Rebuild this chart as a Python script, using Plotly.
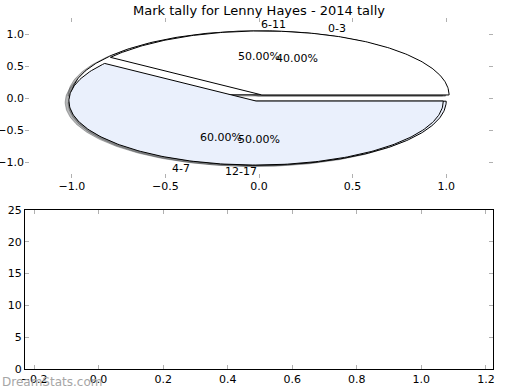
import numpy as np
import plotly.graph_objects as go

# ---- data ----
title = "Mark tally for Lenny Hayes - 2014 tally"
pie_back_labels = ["6-11", "12-17"]
pie_back_values = [50, 50]
pie_front_labels = ["0-3", "4-7"]
pie_front_values = [40, 60]
slice_colors = ["#ffffff", "#eaf0fc"]
explode = [0.05, 0.05]

pie_xticks = [-1.0, -0.5, 0.0, 0.5, 1.0]
pie_yticks = [-1.0, -0.5, 0.0, 0.5, 1.0]
bar_xticks = [-0.2, 0.0, 0.2, 0.4, 0.6, 0.8, 1.0, 1.2]
bar_yticks = [0, 5, 10, 15, 20, 25]
watermark = "DreamStats.com"

FONT = "DejaVu Sans"
fig = go.Figure()


def wedge_pts(cx, cy, r, t1, t2, n=200):
    th = np.radians(np.linspace(t1, t2, n))
    xs = np.concatenate([[cx], cx + r * np.cos(th), [cx]])
    ys = np.concatenate([[cy], cy + r * np.sin(th), [cy]])
    return xs, ys


def pie_geometry(values):
    total = float(sum(values))
    out = []
    start = 0.0
    for i, v in enumerate(values):
        span = 360.0 * v / total
        t1, t2 = start, start + span
        mid = np.radians((t1 + t2) / 2)
        cx = explode[i] * np.cos(mid)
        cy = explode[i] * np.sin(mid)
        out.append((t1, t2, mid, cx, cy, 100.0 * v / total))
        start = t2
    return out


pies = [(pie_back_labels, pie_back_values), (pie_front_labels, pie_front_values)]
geoms = [pie_geometry(v) for _, v in pies]

# shadows (drawn below every wedge)
for geom in geoms:
    for i, (t1, t2, mid, cx, cy, pct) in enumerate(geom):
        xs, ys = wedge_pts(cx - 0.02, cy - 0.02, 1.0, t1, t2)
        rgb = [int(slice_colors[i][k:k + 2], 16) for k in (1, 3, 5)]
        sc = "rgba(%d,%d,%d,0.4)" % tuple(int(0.3 * c) for c in rgb)
        fig.add_trace(go.Scatter(x=xs, y=ys, mode="lines", fill="toself",
                                 fillcolor=sc, line=dict(color=sc, width=1),
                                 hoverinfo="skip", showlegend=False,
                                 xaxis="x", yaxis="y"))

# wedges
for geom in geoms:
    for i, (t1, t2, mid, cx, cy, pct) in enumerate(geom):
        xs, ys = wedge_pts(cx, cy, 1.0, t1, t2)
        fig.add_trace(go.Scatter(x=xs, y=ys, mode="lines", fill="toself",
                                 fillcolor=slice_colors[i],
                                 line=dict(color="black", width=1),
                                 hoverinfo="skip", showlegend=False,
                                 xaxis="x", yaxis="y"))

# labels
annotations = []
annotations.append(dict(x=0.0, y=(390 - 382) / 390, xref="paper", yref="paper",
                        text=watermark, showarrow=False, xanchor="left", yanchor="middle",
                        font=dict(family=FONT, size=12, color="#a6a6a6")))
for (labels, values), geom in zip(pies, geoms):
    for i, (t1, t2, mid, cx, cy, pct) in enumerate(geom):
        lx = cx + 1.1 * np.cos(mid)
        ly = cy + 1.1 * np.sin(mid)
        annotations.append(dict(x=lx, y=ly, xref="x", yref="y", text=labels[i],
                                showarrow=False, xanchor="left" if lx > 0 else "right",
                                yanchor="middle", font=dict(family=FONT, size=11, color="black")))
        px = cx + 0.6 * np.cos(mid)
        py = cy + 0.6 * np.sin(mid)
        annotations.append(dict(x=px, y=py, xref="x", yref="y", text="%.2f%%" % pct,
                                showarrow=False, xanchor="center", yanchor="middle",
                                font=dict(family=FONT, size=11, color="black")))

# empty bottom axes content (invisible placeholder trace so axes render)
fig.add_trace(go.Scatter(x=[None], y=[None], mode="markers", showlegend=False,
                         hoverinfo="skip", xaxis="x2", yaxis="y2"))

x_dom = [25 / 520, 493 / 520]
tick_common = dict(ticks="inside", ticklen=4, tickwidth=1, tickcolor="#b0b0b0",
                   showgrid=False, zeroline=False, automargin=False,
                   tickfont=dict(family=FONT, size=11, color="black"))

fig.update_layout(
    width=520, height=390,
    margin=dict(l=0, r=0, t=0, b=0, pad=0),
    paper_bgcolor="white", plot_bgcolor="white",
    title=dict(text=title, x=259 / 520, y=1 - 10 / 390, xanchor="center", yanchor="middle",
               font=dict(family=FONT, size=13, color="black"), automargin=False),
    xaxis=dict(domain=x_dom, range=[-1.25, 1.25], tickvals=pie_xticks,
               ticktext=[("%.1f" % v).replace("-", "\u2212") for v in pie_xticks],
               showline=False, mirror="ticks", anchor="y", **tick_common),
    yaxis=dict(domain=[1 - 178 / 390, 1 - 18 / 390], range=[-1.25, 1.25], tickvals=pie_yticks,
               ticktext=[("%.1f" % v).replace("-", "\u2212") for v in pie_yticks],
               showline=False, mirror="ticks", anchor="x", **tick_common),
    xaxis2=dict(domain=x_dom, range=[-0.228, 1.222], tickvals=bar_xticks,
                ticktext=[("%.1f" % v).replace("-", "\u2212") for v in bar_xticks],
                showline=True, linecolor="black", linewidth=1, mirror="ticks",
                anchor="y2", **tick_common),
    yaxis2=dict(domain=[1 - 369 / 390, 1 - 210 / 390], range=[0, 25], tickvals=bar_yticks,
                showline=True, linecolor="black", linewidth=1, mirror="ticks",
                anchor="x2", **tick_common),
    annotations=annotations,
)

fig.write_html("out.html", config={"displayModeBar": False},
               post_script="document.body.style.margin='0';")
